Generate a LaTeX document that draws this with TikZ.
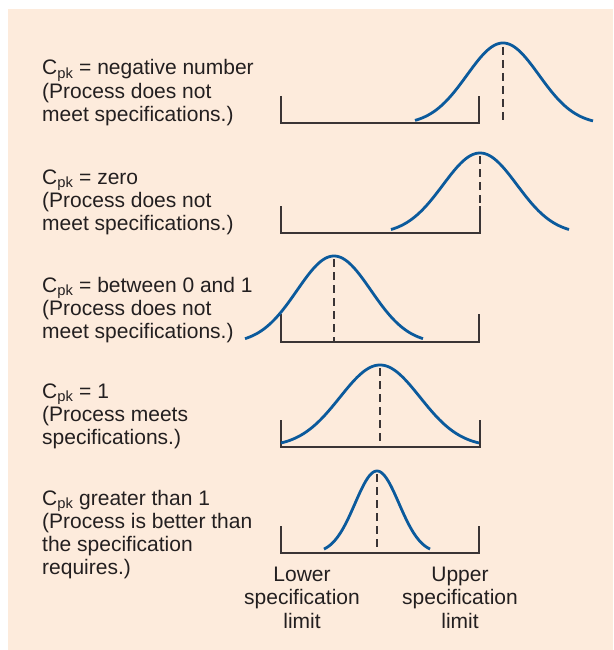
\documentclass[tikz,border=0pt]{standalone}
\usepackage{fontspec}
\setmainfont{Liberation Sans}
\definecolor{peach}{HTML}{FDEBDC}
\definecolor{curveblue}{HTML}{0B5A9C}
\definecolor{ink}{HTML}{3A3435}
\definecolor{txt}{HTML}{231F20}
\newcommand\stackL[1]{\vtop{\halign{##\hfil\cr #1\crcr}}}
\newcommand\stackC[1]{\vtop{\halign{\hfil##\hfil\cr #1\crcr}}}
\begin{document}
\begin{tikzpicture}[x=1pt,y=-1pt,
  declare function={g(\t,\m,\s)=exp(-(\t-\m)*(\t-\m)/(2*\s*\s));},
  lbl/.style={anchor=base west, inner sep=0pt, text=txt, font=\fontsize{21}{23.3}\selectfont},
  clbl/.style={anchor=base, inner sep=0pt, text=txt, font=\fontsize{21}{23.5}\selectfont},
  spec/.style={draw=ink, line width=1.8pt},
  bell/.style={draw=curveblue, line width=2.8pt},
  mean/.style={draw=ink, line width=1.5pt, dash pattern=on 8pt off 5pt}]
\useasboundingbox (0,0) rectangle (613,650);
\fill[peach] (8,9) rectangle (613,650);

% Panel 1
\node[lbl] (t1) at (42,75) {\stackL{C\textsubscript{pk} = negative number\cr (Process does not\cr meet specifications.)}};
\draw[mean] (503,47) -- (503,123);
\draw[spec] (281,96) -- (281,123) -- (479,123) -- (479,96);
\draw[bell] plot[domain=415:593, samples=90, smooth] (\x,{124.5-81.5*g(\x,503,36)});

% Panel 2
\node[lbl] (t2) at (42,184) {\stackL{C\textsubscript{pk} = zero\cr (Process does not\cr meet specifications.)}};
\draw[mean] (480,156) -- (480,233);
\draw[spec] (281,206) -- (281,233) -- (480,233) -- (480,206);
\draw[bell] plot[domain=391:569, samples=90, smooth] (\x,{234-81*g(\x,480,37)});

% Panel 3
\node[lbl] (t3) at (42,292) {\stackL{C\textsubscript{pk} = between 0 and 1\cr (Process does not\cr meet specifications.)}};
\draw[mean] (334,259) -- (334,342);
\draw[spec] (281,314) -- (281,342) -- (479,342) -- (479,314);
\draw[bell] plot[domain=245:423, samples=90, smooth] (\x,{343.5-87.5*g(\x,334,37)});

% Panel 4
\node[lbl] (t4) at (42,398) {\stackL{C\textsubscript{pk} = 1\cr (Process meets\cr specifications.)}};
\draw[mean] (380,368) -- (380,447);
\draw[spec] (281,420) -- (281,447) -- (480,447) -- (480,420);
\draw[bell] plot[domain=281:479, samples=100, smooth] (\x,{446.8-81.8*g(\x,380,40)});

% Panel 5
\node[lbl] (t5) at (42,505) {\stackL{C\textsubscript{pk} greater than 1\cr (Process is better than\cr the specification\cr requires.)}};
\draw[mean] (377,474) -- (377,553);
\draw[spec] (281,526) -- (281,553) -- (479,553) -- (479,526);
\draw[bell] plot[domain=324:430, samples=80, smooth] (\x,{553.6-82.6*g(\x,377,22)});

% Limit labels
\node[clbl] (lsl) at (302,581) {\stackC{Lower\cr specification\cr limit}};
\node[clbl] (usl) at (460,581) {\stackC{Upper\cr specification\cr limit}};
\end{tikzpicture}
\end{document}
